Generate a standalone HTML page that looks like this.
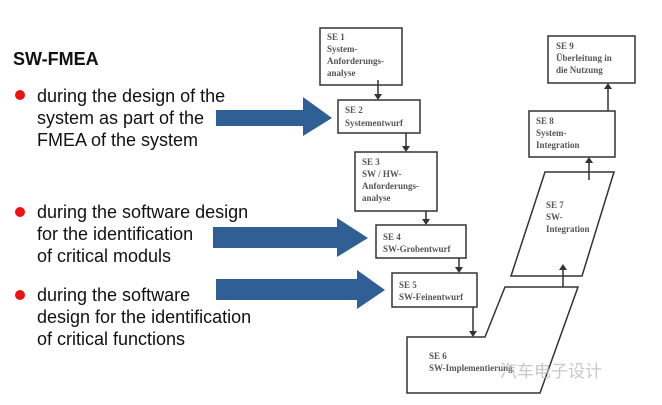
<!DOCTYPE html>
<html><head><meta charset="utf-8"><style>
body{margin:0;background:#fff;width:662px;height:400px;overflow:hidden}
</style></head><body>
<svg width="662" height="400" xmlns="http://www.w3.org/2000/svg">
<g font-family="Liberation Sans, Arial, sans-serif" fill="#111">
<text x="13" y="65" font-size="18" font-weight="bold">SW-FMEA</text>
<g font-size="18">
<text x="37" y="102">during the design of the</text>
<text x="37" y="124">system as part of the</text>
<text x="37" y="146">FMEA of the system</text>
<text x="37" y="218">during the software design</text>
<text x="37" y="240">for the identification</text>
<text x="37" y="262">of critical moduls</text>
<text x="37" y="301">during the software</text>
<text x="37" y="323">design for the identification</text>
<text x="37" y="345">of critical functions</text>
</g></g>
<g fill="#e11">
<circle cx="20" cy="95" r="5"/><circle cx="20" cy="212" r="5"/><circle cx="20" cy="295" r="5"/>
</g>
<g fill="#2f5f95">
<polygon points="216,110 303,110 303,97 332,118 303,136 303,126 216,126"/>
<polygon points="213,227 337,227 337,218 368,238 337,257 337,248 213,248"/>
<polygon points="216,279 357,279 357,270 385,290 357,309 357,300 216,300"/>
</g>
<g fill="none" stroke="#333" stroke-width="1.5">
<rect x="320" y="28" width="82" height="57"/>
<rect x="338" y="100" width="82" height="33"/>
<rect x="355" y="152" width="82" height="59"/>
<rect x="376" y="225" width="90" height="33"/>
<rect x="392" y="273" width="85" height="34"/>
<rect x="548" y="36" width="87" height="47"/>
<rect x="529" y="111" width="86" height="46"/>
<polygon points="545,172 614,172 582,276 511,276"/>
<polygon points="407,337 485,337 505,287 578,287 540,393 407,393"/>
</g>
<g stroke="#333" stroke-width="1.5">
<line x1="378" y1="80" x2="378" y2="96"/><line x1="406" y1="133" x2="406" y2="148"/>
<line x1="426" y1="211" x2="426" y2="221"/><line x1="459" y1="258" x2="459" y2="269"/>
<line x1="473" y1="307" x2="473" y2="333"/><line x1="563" y1="287" x2="563" y2="268"/>
<line x1="589" y1="180" x2="589" y2="161"/><line x1="608" y1="111" x2="608" y2="87"/>
</g>
<g fill="#333">
<polygon points="374,94 382,94 378,100"/><polygon points="402,146 410,146 406,152"/>
<polygon points="422,219 430,219 426,225"/><polygon points="455,267 463,267 459,273"/>
<polygon points="469,331 477,331 473,337"/><polygon points="559,270 567,270 563,264"/>
<polygon points="585,163 593,163 589,157"/><polygon points="604,89 612,89 608,83"/>
</g>
<g font-family="Liberation Serif, serif" font-size="9" fill="#555" font-weight="bold">
<text x="327" y="40">SE 1</text><text x="327" y="52">System-</text><text x="327" y="64">Anforderungs-</text><text x="327" y="76">analyse</text>
<text x="345" y="113">SE 2</text><text x="345" y="126">Systementwurf</text>
<text x="362" y="165">SE 3</text><text x="362" y="177">SW / HW-</text><text x="362" y="189">Anforderungs-</text><text x="362" y="201">analyse</text>
<text x="383" y="240">SE 4</text><text x="383" y="252">SW-Grobentwurf</text>
<text x="399" y="288">SE 5</text><text x="399" y="300">SW-Feinentwurf</text>
<text x="429" y="359">SE 6</text><text x="429" y="371">SW-Implementierung</text>
<text x="546" y="208">SE 7</text><text x="546" y="220">SW-</text><text x="546" y="232">Integration</text>
<text x="536" y="124">SE 8</text><text x="536" y="136">System-</text><text x="536" y="148">Integration</text>
<text x="556" y="49">SE 9</text><text x="556" y="61">Überleitung in</text><text x="556" y="73">die Nutzung</text>
</g>
<text x="500" y="377" font-family="Noto Sans CJK SC, sans-serif" font-size="17" fill="#bbb" opacity="0.8">汽车电子设计</text>
</svg>
</body></html>
